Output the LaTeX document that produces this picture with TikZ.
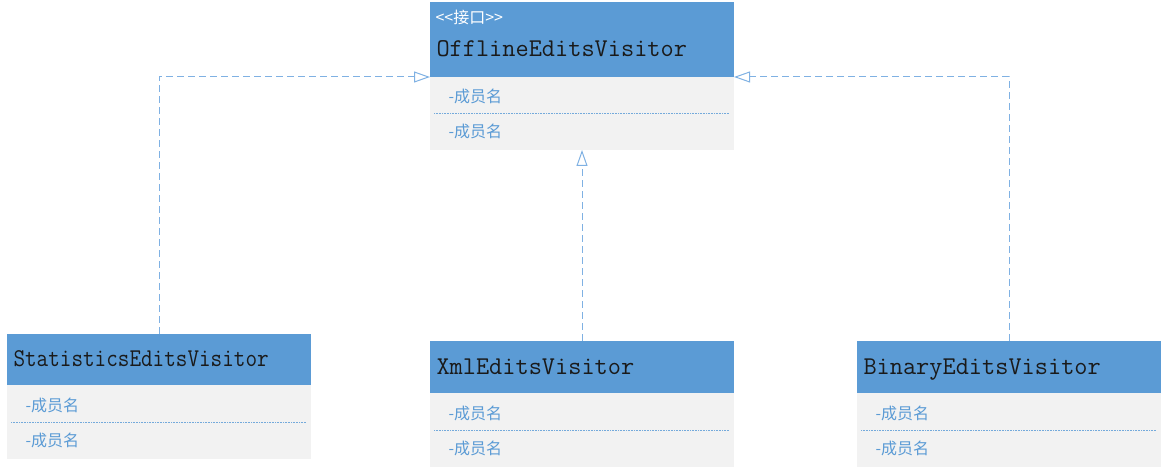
\documentclass[tikz,border=0pt]{standalone}
\usepackage{fontspec}
\newfontfamily\cjk{Noto Sans CJK SC}
\usetikzlibrary{arrows.meta}

\definecolor{hdblue}{HTML}{5B9BD5}
\definecolor{bodygray}{HTML}{F2F2F2}
\definecolor{linkblue}{HTML}{7FB1E3}
\definecolor{titleblack}{HTML}{1A1A1A}

\begin{document}
\begin{tikzpicture}[x=1pt, y=-1pt, line width=1pt,
		head/.style={fill=hdblue, anchor=north west, minimum width=304pt, inner sep=0pt, outer sep=0pt},
		body/.style={fill=bodygray, anchor=north west, minimum width=304pt, minimum height=74pt, inner sep=0pt, outer sep=0pt},
		title/.style={anchor=mid west, inner sep=0pt, text=titleblack, font=\ttfamily\fontsize{25.6}{30}\selectfont},
		stereo/.style={anchor=mid west, inner sep=0pt, text=white, font=\cjk\fontsize{16}{19}\selectfont},
		member/.style={anchor=mid west, inner sep=0pt, text=hdblue, font=\cjk\fontsize{16}{19}\selectfont},
		sep/.style={draw=hdblue!85, line width=0.8pt, dash pattern=on 1pt off 0.6pt},
		realize/.style={draw=linkblue, dash pattern=on 7pt off 4pt, -{Triangle[open, length=16pt, width=11pt]}}]
	\useasboundingbox (0,0) rectangle (1165,470);

	% interface
	\node[head, minimum height=75pt] (ifaceh) at (430,2) {};
	\node[body, minimum height=73pt] (ifaceb) at (ifaceh.south west) {};
	\node[stereo] (ifaces) at (435,21) {<\kern0pt<接口>\kern0pt>};
	\node[title] (ifacet) at (436,54) {OfflineEditsVisitor};
	\node[member] (ifacem1) at (448,100) {-成员名};
	\node[member] (ifacem2) at (448,135) {-成员名};
	\draw[sep] ([xshift=4pt]ifaceb.west) -- ([xshift=-5pt]ifaceb.east);

	% StatisticsEditsVisitor
	\node[head, minimum height=51pt] (statsh) at (7,334) {};
	\node[body] (statsb) at (statsh.south west) {};
	\node[title] (statst) at (13,364) {\scalebox{0.88}[1]{StatisticsEditsVisitor}};
	\node[member] (statsm1) at (25,409) {-成员名};
	\node[member] (statsm2) at (25,444) {-成员名};
	\draw[sep] ([xshift=4pt]statsb.west) -- ([xshift=-5pt]statsb.east);

	% XmlEditsVisitor
	\node[head, minimum height=52pt] (xmlh) at (430,341) {};
	\node[body] (xmlb) at (xmlh.south west) {};
	\node[title] (xmlt) at (436,372) {XmlEditsVisitor};
	\node[member] (xmlm1) at (448,417) {-成员名};
	\node[member] (xmlm2) at (448,452) {-成员名};
	\draw[sep] ([xshift=4pt]xmlb.west) -- ([xshift=-5pt]xmlb.east);

	% BinaryEditsVisitor
	\node[head, minimum height=52pt] (binh) at (857,341) {};
	\node[body] (binb) at (binh.south west) {};
	\node[title] (bint) at (863,372) {BinaryEditsVisitor};
	\node[member] (binm1) at (875,417) {-成员名};
	\node[member] (binm2) at (875,452) {-成员名};
	\draw[sep] ([xshift=4pt]binb.west) -- ([xshift=-5pt]binb.east);

	% realizations
	\draw[realize] (statsh.north) |- (ifaceh.south west);
	\draw[realize] (binh.north) |- (ifaceh.south east);
	\draw[realize] (xmlh.north) -- (ifaceb.south);
\end{tikzpicture}
\end{document}
